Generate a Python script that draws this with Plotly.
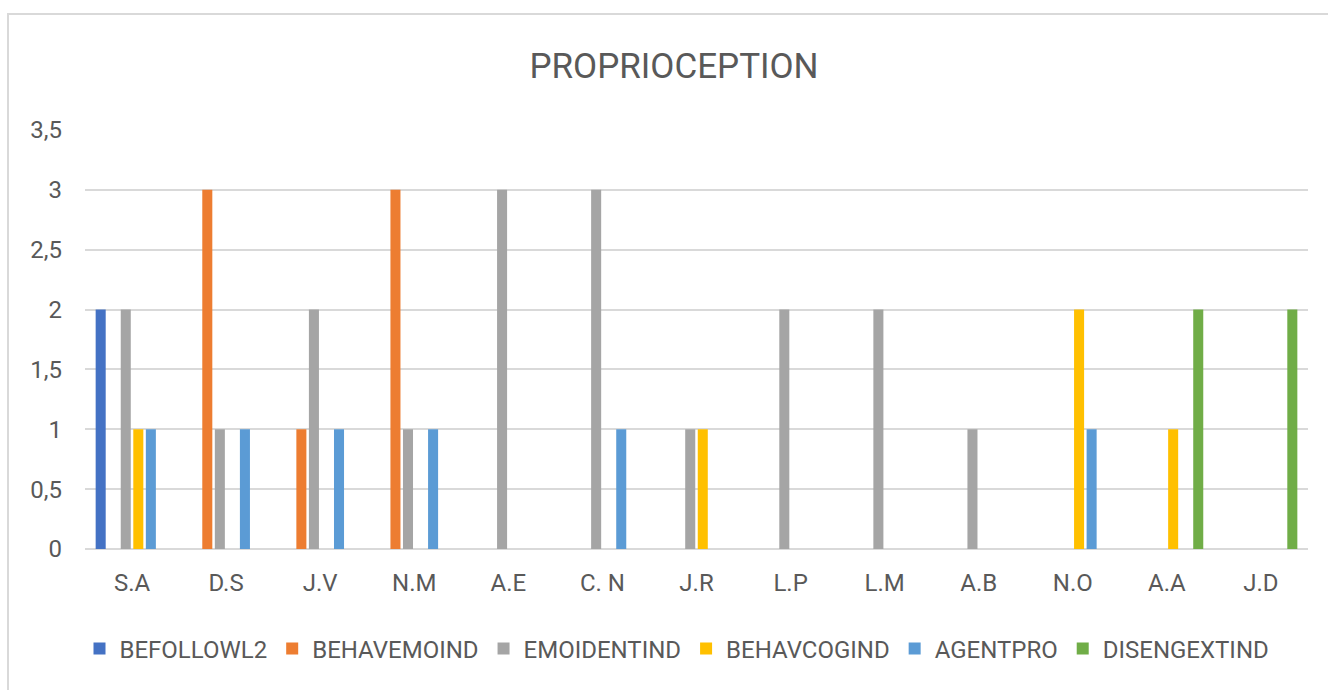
import plotly.graph_objects as go

categories = ["S.A", "D.S", "J.V", "N.M", "A.E", "C. N", "J.R", "L.P", "L.M", "A.B", "N.O", "A.A", "J.D"]
befollowl2 = [2, 0, 0, 0, 0, 0, 0, 0, 0, 0, 0, 0, 0]
behavemoind = [0, 3, 1, 3, 0, 0, 0, 0, 0, 0, 0, 0, 0]
emoidentind = [2, 1, 2, 1, 3, 3, 1, 2, 2, 1, 0, 0, 0]
behavcogind = [1, 0, 0, 0, 0, 0, 1, 0, 0, 0, 2, 1, 0]
agentpro = [1, 1, 1, 1, 0, 1, 0, 0, 0, 0, 1, 0, 0]
disengextind = [0, 0, 0, 0, 0, 0, 0, 0, 0, 0, 0, 2, 2]
y_ticks = [0, 0.5, 1, 1.5, 2, 2.5, 3, 3.5]

series = [
    ("BEFOLLOWL2", befollowl2, "#4472C4"),
    ("BEHAVEMOIND", behavemoind, "#ED7D31"),
    ("EMOIDENTIND", emoidentind, "#A5A5A5"),
    ("BEHAVCOGIND", behavcogind, "#FFC000"),
    ("AGENTPRO", agentpro, "#5B9BD5"),
    ("DISENGEXTIND", disengextind, "#70AD47"),
]

fig = go.Figure()
for name, vals, color in series:
    fig.add_trace(go.Bar(x=categories, y=vals, name=name,
                         marker=dict(color=color, line=dict(width=0))))

W, H = 1328, 690
L, R, T, B = 85, 20, 130, 141
pw, ph = W - L - R, H - T - B

fig.update_layout(
    width=W, height=H,
    margin=dict(l=L, r=R, t=T, b=B, autoexpand=False),
    paper_bgcolor="white", plot_bgcolor="white",
    separators=",.",
    barmode="group", bargap=0.2, bargroupgap=0.2,
    font=dict(family="Roboto", color="#595959"),
    title=dict(text="PROPRIOCEPTION", x=674 / W, xref="container", xanchor="center",
               y=1 - 66 / H, yref="container", yanchor="middle",
               font=dict(size=35, color="#595959", family="Roboto")),
    legend=dict(orientation="h", x=(677 - L) / pw, xanchor="center",
                y=(H - B - 649) / ph, yanchor="middle",
                font=dict(size=24, color="#595959"), traceorder="normal"),
    xaxis=dict(showgrid=False, showline=False, ticks="", zeroline=False,
               tickfont=dict(size=24, color="#595959"), ticklabelstandoff=17),
    yaxis=dict(range=[0, 3.5], tickvals=y_ticks, showgrid=True, gridcolor="#D9D9D9",
               gridwidth=2, zeroline=True, zerolinecolor="#D9D9D9", zerolinewidth=2,
               showline=False, ticks="", tickfont=dict(size=24, color="#595959"),
               ticklabelstandoff=22),
    showlegend=True,
)

# chart-area border
fig.add_shape(type="rect", xref="paper", yref="paper",
              x0=(8 - L) / pw, x1=(W + 5 - L) / pw,
              y0=(H - B - (H + 5)) / ph, y1=(H - B - 14) / ph,
              line=dict(color="#D9D9D9", width=2), fillcolor="rgba(0,0,0,0)", layer="below")

fig.write_html("out.html")
